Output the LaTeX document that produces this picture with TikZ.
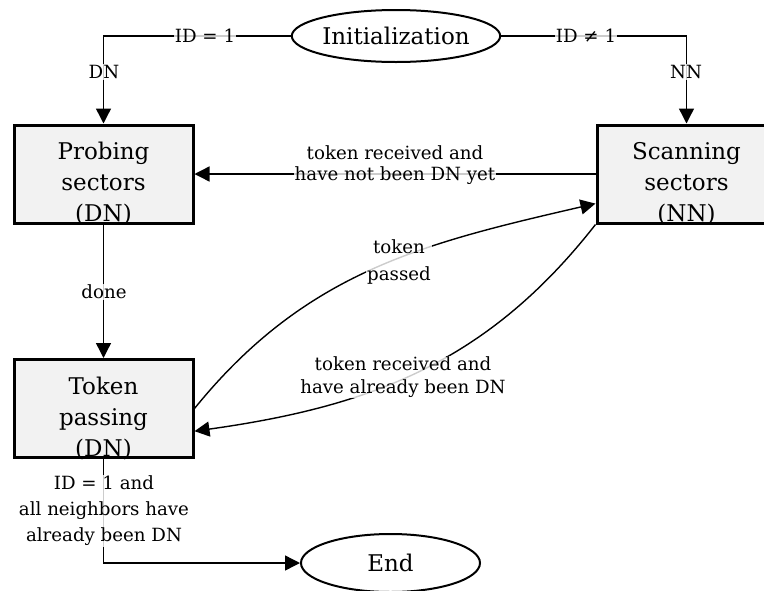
\documentclass[tikz,border=0pt]{standalone}
\usepackage{fontspec}
\setmainfont{DejaVu Serif}
\usetikzlibrary{arrows.meta,shapes.geometric}
\definecolor{boxfill}{HTML}{F2F2F2}
\tikzset{
  statebox/.style={draw, line width=3pt, fill=boxfill, rectangle, minimum width=179pt, minimum height=98pt, inner sep=0pt},
  boxtext/.style={align=center, font=\fontsize{23}{31}\selectfont, inner sep=0pt},
  term/.style={draw, line width=2pt, ellipse, minimum width=182pt, minimum height=52pt, inner sep=0pt, font=\fontsize{23}{27}\selectfont},
  conn/.style={line width=1.4pt, -{Triangle[length=15pt,width=15pt]}},
  lbl/.style={fill=white, fill opacity=0.8, text opacity=1, align=center, inner sep=1pt, font=\fontsize{18.2}{#1}\selectfont},
  lbl/.default=21
}
\begin{document}
\begin{tikzpicture}[x=1pt,y=1pt]
\useasboundingbox (0,0) rectangle (764,-590);
% states
\node[term] (init) at (396,-36) {Initialization};
\node[statebox] (probe) at (103.5,-174) {};
\node[boxtext] (probeT) at (103.5,-184) {Probing\\sectors\\(DN)};
\node[statebox] (scan) at (686.5,-174) {};
\node[boxtext] (scanT) at (686.5,-184) {Scanning\\sectors\\(NN)};
\node[statebox] (token) at (103.5,-408.5) {};
\node[boxtext] (tokenT) at (103.5,-418.5) {Token\\passing\\(DN)};
\node[term, minimum width=179pt, minimum height=58pt] (fin) at (390.5,-563) {End};
% connectors
\draw[conn] (init.west) -| (probe.north);
\draw[conn] (init.east) -| (scan.north);
\draw[conn] (scan.west) -- (probe.east);
\draw[conn] (probe.south) -- (token.north);
\draw[conn] (token.east) to[out=51,in=193] (scan.198);
\draw[conn] (scan.south west) to[out=232,in=8] (token.346.5);
\draw[conn] (token.south) |- (fin.west);
% labels
\node[lbl] (l1) at (205,-36) {ID = 1};
\node[lbl] (l2) at (586,-36) {ID ≠ 1};
\node[lbl] (l3) at (104,-72) {DN};
\node[lbl] (l4) at (686,-72) {NN};
\node[lbl] (l5) at (395,-165) {token received and\\have not been DN yet};
\node[lbl] (l6) at (104,-292) {done};
\node[lbl=27] (l7) at (399,-262) {token\\passed};
\node[lbl=23] (l8) at (403,-377) {token received and\\have already been DN};
\node[lbl=26] (l9) at (104,-511) {ID = 1 and\\all neighbors have\\already been DN};
\end{tikzpicture}
\end{document}
